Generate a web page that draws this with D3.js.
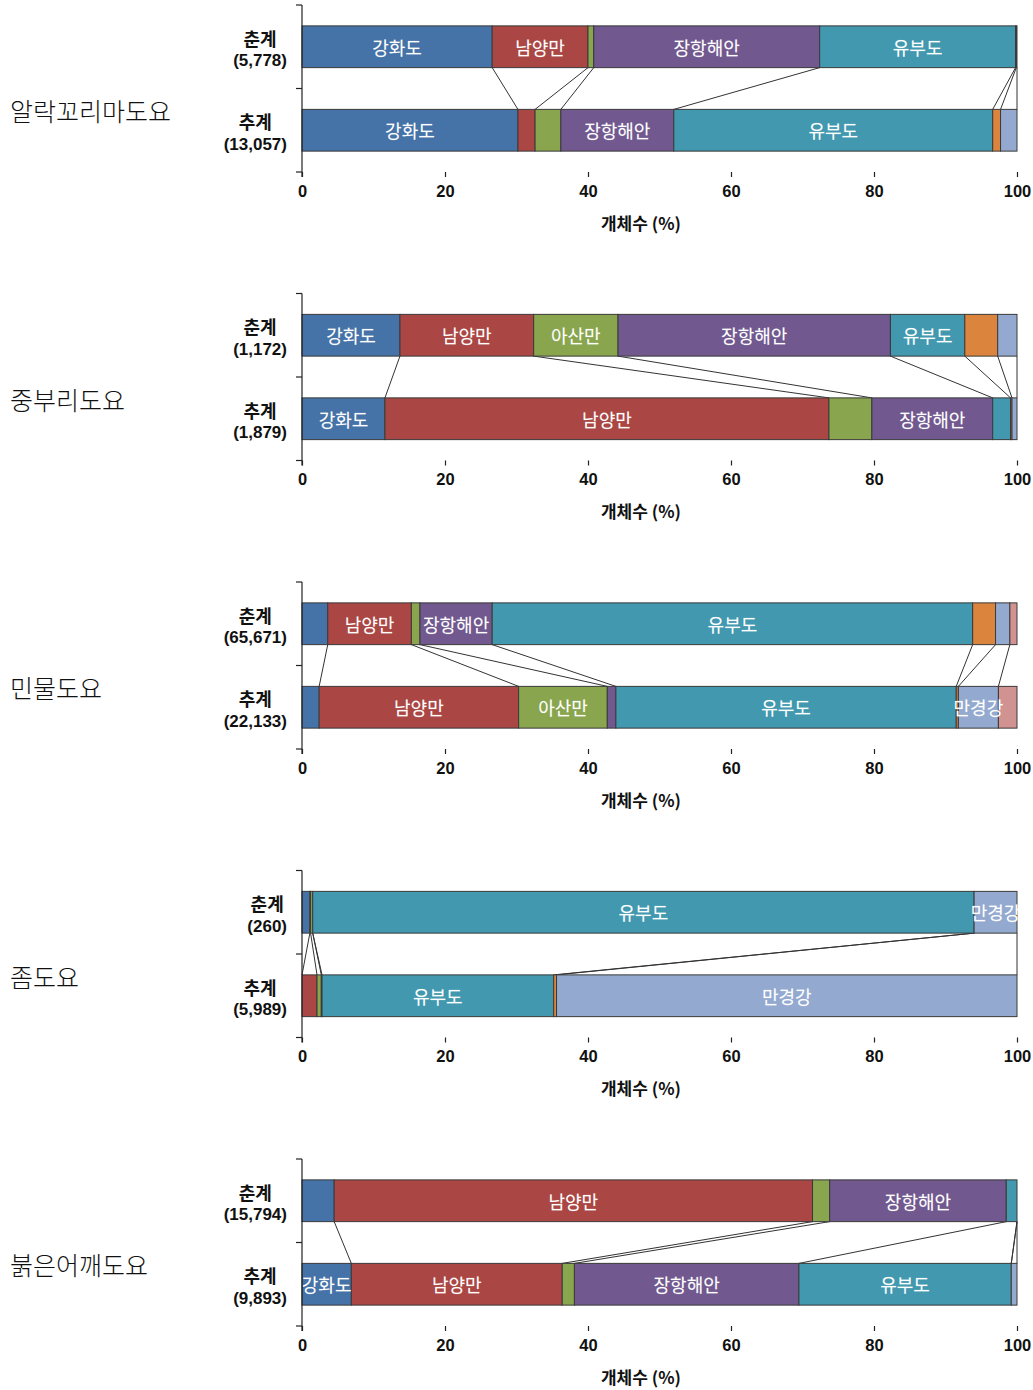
<!DOCTYPE html>
<html><head><meta charset="utf-8">
<script src="https://cdn.jsdelivr.net/npm/d3@7"></script>
<style>
body{margin:0;background:#fff;}
svg{display:block;}
</style></head>
<body>
<script>
// ---- data ----
const regions = ["강화도","남양만","아산만","장항해안","유부도","금강하구","만경강","동진강"];
const regionColors = ["#4572A7","#AA4643","#89A54E","#71588F","#4198AF","#DB843D","#93A9CF","#D19392"];
const species = ["알락꼬리마도요","중부리도요","민물도요","좀도요","붉은어깨도요"];
const seasons = ["춘계","추계"];
const counts = [[5778,13057],[1172,1879],[65671,22133],[260,5989],[15794,9893]];
// percent share per region, [spring, autumn]
const springValues = [
  [26.6, 13.4, 0.8, 31.6, 27.4, 0.1, 0.1, 0],
  [13.7, 18.7, 11.8, 38.1, 10.4, 4.6, 2.7, 0],
  [3.6, 11.7, 1.2, 10.1, 67.2, 3.2, 2.0, 1.0],
  [1.1, 0.1, 0.3, 0, 92.5, 0, 6.0, 0],
  [4.5, 66.9, 2.4, 24.7, 1.5, 0, 0, 0]
];
const autumnValues = [
  [30.2, 2.4, 3.6, 15.8, 44.6, 1.1, 2.3, 0],
  [11.6, 62.1, 6.0, 16.9, 2.5, 0.2, 0.7, 0],
  [2.4, 27.9, 12.4, 1.2, 47.6, 0.3, 5.6, 2.6],
  [0, 2.1, 0.6, 0.1, 32.4, 0.4, 64.4, 0],
  [6.9, 29.5, 1.7, 31.4, 29.7, 0, 0.8, 0]
];
// which segments carry a text label
const springLabeled = [
  ["강화도","남양만","장항해안","유부도"],
  ["강화도","남양만","아산만","장항해안","유부도"],
  ["남양만","장항해안","유부도"],
  ["유부도","만경강"],
  ["남양만","장항해안"]
];
const autumnLabeled = [
  ["강화도","장항해안","유부도"],
  ["강화도","남양만","장항해안"],
  ["남양만","아산만","유부도","만경강"],
  ["유부도","만경강"],
  ["강화도","남양만","장항해안","유부도"]
];
const xTicks = [0,20,40,60,80,100];
const xTitle = "개체수 (%)";

// ---- layout ----
const W = 1033, H = 1390;
const svg = d3.select("body").append("svg").attr("width",W).attr("height",H);
const x = d3.scaleLinear().domain([0,100]).range([302,1017]);
const panelStep = 288.5;
const latin = "'Liberation Sans', Arial, 'Noto Sans CJK KR', sans-serif";
const kor = "'Noto Sans CJK KR', 'Noto Sans', sans-serif";

species.forEach((sp, i) => {
  const top = 5 + panelStep * i;
  const g = svg.append("g");
  const y = d3.scaleBand().domain(seasons).range([top, top + 167]).paddingInner(0.5).paddingOuter(0.25);
  const bw = y.bandwidth();
  const data = [springValues[i], autumnValues[i]];
  const labeled = [springLabeled[i], autumnLabeled[i]];

  const cums = data.map(vals => {
    let c = 0; return vals.map(v => { const s = c; c += v; return [s, c]; });
  });

  // series lines
  const nB = regions.length - 1;
  for (let k = 0; k < nB; k++) {
    g.append("line")
      .attr("x1", x(cums[0][k][1])).attr("y1", y(seasons[0]) + bw)
      .attr("x2", x(cums[1][k][1])).attr("y2", y(seasons[1]))
      .attr("stroke","#333").attr("stroke-width",1);
  }

  seasons.forEach((s, j) => {
    const bg = g.append("g");
    regions.forEach((r, k) => {
      const [a, b] = cums[j][k];
      if (b - a <= 0) return;
      bg.append("rect")
        .attr("x", x(a)).attr("y", y(s))
        .attr("width", x(b) - x(a)).attr("height", bw)
        .attr("fill", regionColors[k])
        .attr("stroke","#3a3a3a").attr("stroke-width",1);
    });
    regions.forEach((r, k) => {
      if (!labeled[j].includes(r)) return;
      const [a, b] = cums[j][k];
      bg.append("text")
        .attr("x", x((a + b) / 2)).attr("y", y(s) + bw / 2)
        .attr("text-anchor","middle").attr("dominant-baseline","central")
        .attr("font-family", kor).attr("font-size", 18)
        .attr("fill","#fff")
        .attr("stroke","rgba(255,255,255,0.3)").attr("stroke-width",0.4)
        .text(r);
    });
    // category labels (two lines, centred on each other, right edge at 287)
    const t1 = g.append("text")
      .attr("y", y(s) + bw / 2 - 9)
      .attr("text-anchor","middle").attr("dominant-baseline","central")
      .attr("font-family", kor).attr("font-weight", 700).attr("font-size", 18).attr("fill","#111")
      .text(s);
    const t2 = g.append("text")
      .attr("y", y(s) + bw / 2 + 14)
      .attr("text-anchor","middle").attr("dominant-baseline","central")
      .attr("font-family", latin).attr("font-weight", 700).attr("font-size", 17).attr("fill","#111")
      .text("(" + d3.format(",")(counts[i][j]) + ")");
    const wMax = Math.max(t1.node().getComputedTextLength(), t2.node().getComputedTextLength());
    const cx = 287 - wMax / 2;
    t1.attr("x", cx); t2.attr("x", cx);
  });

  // y axis: line with ticks at band boundaries
  const yLine = g.append("g");
  yLine.append("line").attr("x1",302).attr("x2",302).attr("y1",top).attr("y2",top+172)
    .attr("stroke","#222").attr("stroke-width",1.2);
  [top, top + 83.5, top + 167].forEach(t => {
    yLine.append("line").attr("x1",296).attr("x2",302).attr("y1",t).attr("y2",t)
      .attr("stroke","#222").attr("stroke-width",1.2);
  });

  // x axis (ticks only)
  const xa = g.append("g").attr("transform", `translate(0,${top + 167})`)
    .call(d3.axisBottom(x).tickValues(xTicks).tickSize(5).tickPadding(8));
  xa.select(".domain").remove();
  xa.selectAll("line").attr("stroke","#222").attr("stroke-width",1.2);
  xa.selectAll("text").attr("font-family", latin).attr("font-weight",700)
    .attr("font-size",16.5).attr("fill","#111");

  g.append("text")
    .attr("x", 641).attr("y", top + 217)
    .attr("text-anchor","middle").attr("dominant-baseline","central")
    .attr("font-family", kor).attr("font-weight",700).attr("font-size",17).attr("fill","#111")
    .text(xTitle);

  // species label
  g.append("text")
    .attr("x", 10).attr("y", top + 105)
    .attr("dominant-baseline","central")
    .attr("font-family", kor).attr("font-weight",300).attr("font-size",25).attr("fill","#111")
    .text(sp);
});
</script>
</body></html>
